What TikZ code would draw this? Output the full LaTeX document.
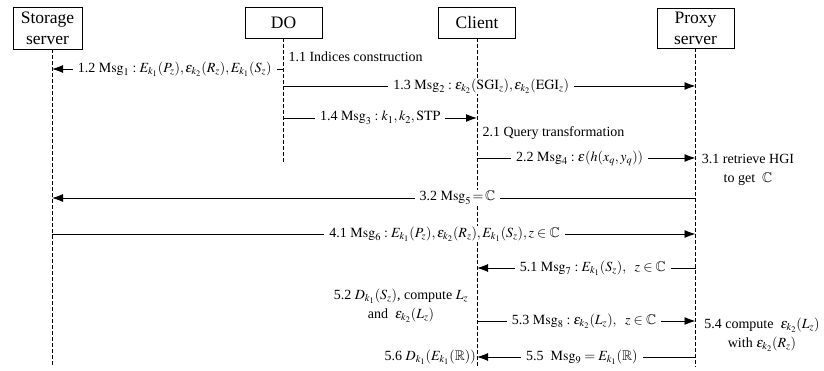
\documentclass[tikz,border=0pt]{standalone}
\usepackage{amsmath,amssymb}
\usepackage{mathptmx}
\usepackage[no-math]{fontspec}
\setmainfont{Liberation Serif}
\usetikzlibrary{arrows.meta}
\tikzset{
	lifebox/.style={draw,line width=0.8pt,align=center,inner sep=2pt,
			font=\fontsize{17.5}{21}\selectfont},
	lifeline/.style={line width=0.8pt,dash pattern=on 4pt off 2pt},
	msg/.style={line width=0.9pt,-{Latex[length=11pt,width=8pt]}},
	lbl/.style={fill=white,inner xsep=5pt,inner ysep=1pt}
}

\begin{document}
\begin{tikzpicture}[x=1pt,y=-1pt,font=\fontsize{14}{19}\selectfont]
            \useasboundingbox (0,0) rectangle (824,371);
            % participants
            \node[lifebox,minimum width=69pt,minimum height=42pt] (ss) at (47.5,28) {Storage\\server};
            \node[lifebox,minimum width=77pt,minimum height=31pt] (do) at (283.5,22.5) {DO};
            \node[lifebox,minimum width=77pt,minimum height=31pt] (cl) at (477,22.5) {Client};
            \node[lifebox,minimum width=77pt,minimum height=40pt] (px) at (695.5,28) {Proxy\\server};
            \coordinate (ssEnd) at (52,367);
            \coordinate (doEnd) at (283.5,163);
            \coordinate (clEnd) at (477,367);
            \coordinate (pxEnd) at (695.5,367);
            \draw[lifeline] (ss.south -| ssEnd) -- (ssEnd);
            \draw[lifeline] (do.south) -- (doEnd);
            \draw[lifeline] (cl.south) -- (clEnd);
            \draw[lifeline] (px.south) -- (pxEnd);
            % phase 1
            \node[anchor=west] (t11) at (285,57) {1.1 Indices construction};
            \draw[msg] (doEnd |- 0,69) -- node[lbl,pos=0.47] {1.2 $\mathrm{Msg}_1:E_{k_1}(P_z),\varepsilon_{k_2}(R_z),E_{k_1}(S_z)$} (ssEnd |- 0,69);
            \draw[msg] (doEnd |- 0,86) -- node[lbl,pos=0.48] {1.3 $\mathrm{Msg}_2:\varepsilon_{k_2}(\mathrm{SGI}_z),\varepsilon_{k_2}(\mathrm{EGI}_z)$} (pxEnd |- 0,86);
            \draw[msg] (doEnd |- 0,118) -- node[lbl] {1.4 $\mathrm{Msg}_3:k_1,k_2,\mathrm{STP}$} (clEnd |- 0,118);
            % phase 2
            \node[anchor=west] (t21) at (479,133) {2.1 Query transformation};
            \draw[msg] (clEnd |- 0,158) -- node[lbl,pos=0.47] {2.2 $\mathrm{Msg}_4:\varepsilon(h(x_q,y_q))$} (pxEnd |- 0,158);
            % phase 3
            \node[align=center] (t31) at (748,170) {3.1 retrieve HGI\\to get \ $\mathbb{C}$};
            \draw[msg] (pxEnd |- 0,198) -- node[lbl,pos=0.37] {3.2 $\mathrm{Msg}_5\!=\!\mathbb{C}$} (ssEnd |- 0,198);
            % phase 4
            \draw[msg] (ssEnd |- 0,234) -- node[lbl,pos=0.61] {4.1 $\mathrm{Msg}_6:E_{k_1}(P_z),\varepsilon_{k_2}(R_z),E_{k_1}(S_z),z\in\mathbb{C}$} (pxEnd |- 0,234);
            % phase 5
            \draw[msg] (pxEnd |- 0,268) -- node[lbl,pos=0.47] {5.1 $\mathrm{Msg}_7:E_{k_1}(S_z),\ \ z\in\mathbb{C}$} (clEnd |- 0,268);
            \node[align=center] (t52) at (401,306) {5.2 $D_{k_1}(S_z)$, compute $L_z$\\and \ $\varepsilon_{k_2}(L_z)$};
            \draw[msg] (clEnd |- 0,321) -- node[lbl,pos=0.49] {5.3 $\mathrm{Msg}_8:\varepsilon_{k_2}(L_z),\ \ z\in\mathbb{C}$} (pxEnd |- 0,321);
            \node[align=center] (t54) at (762,335) {5.4 compute \ $\varepsilon_{k_2}(L_z)$\\with $\varepsilon_{k_2}(R_z)$};
            \draw[msg] (pxEnd |- 0,357) -- node[lbl,pos=0.52] {5.5 \ $\mathrm{Msg}_9=E_{k_1}(\mathbb{R})$} (clEnd |- 0,357);
            \node[anchor=east,inner sep=1pt] (t56) at (clEnd |- 0,357) {5.6 $D_{k_1}(E_{k_1}(\mathbb{R}))$};
        \end{tikzpicture}
\end{document}
